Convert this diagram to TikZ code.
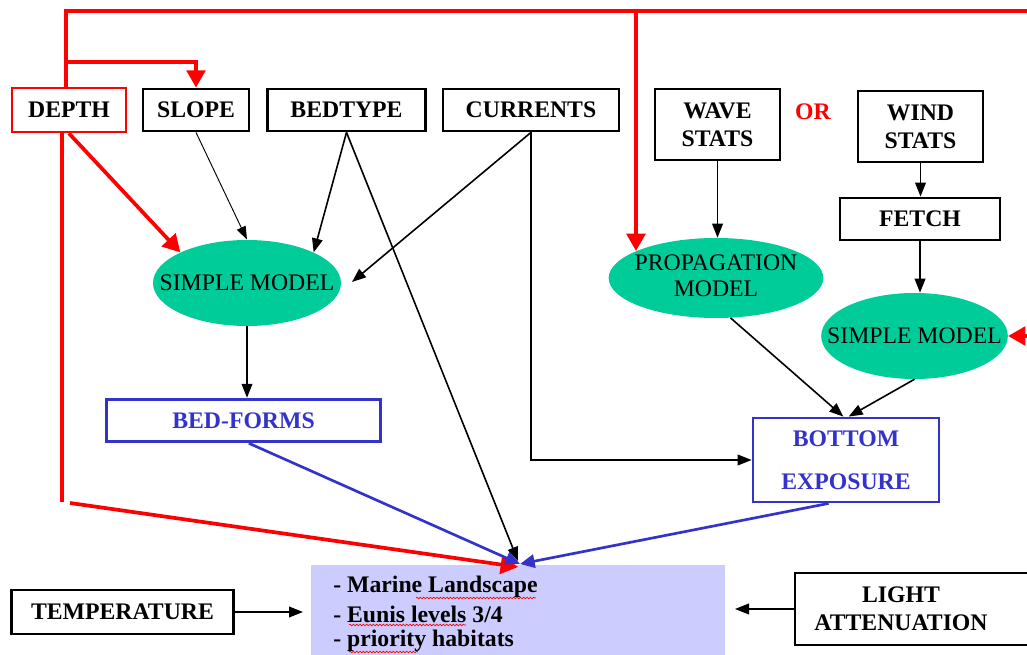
\documentclass[tikz,border=0pt]{standalone}
\usepackage{fontspec}
\setmainfont{Liberation Serif}
\usetikzlibrary{arrows.meta,shapes.geometric,decorations.pathmorphing}
\definecolor{myred}{RGB}{255,0,0}
\definecolor{myblue}{RGB}{51,51,204}
\definecolor{mygreen}{RGB}{0,204,153}
\definecolor{lav}{RGB}{204,204,255}
\begin{document}
\begin{tikzpicture}[x=0.75pt,y=-0.75pt,
  every node/.style={font=\fontsize{17.8pt}{21pt}\selectfont\bfseries},
  box/.style={draw=black,line width=2.1pt,inner sep=0pt,align=center,fill=white},
  ell/.style={ellipse,fill=mygreen,inner sep=0pt,font=\fontsize{17.8pt}{21pt}\selectfont\mdseries},
  blk/.style={draw=black,line width=1.2pt,-{Triangle[length=10.5pt,width=8pt]}},
  thinblk/.style={draw=black,line width=0.7pt,-{Triangle[length=10pt,width=7pt]}},
  redline/.style={draw=myred,line width=2.8pt},
  redarr/.style={draw=myred,line width=2.8pt,-{Triangle[length=13pt,width=14pt]}},
  bluarr/.style={draw=myblue,line width=2pt,-{Triangle[length=11pt,width=10pt]}},
  squig/.style={draw=myred,line width=0.5pt,decorate,decoration={snake,amplitude=0.6pt,segment length=2.5pt}}
]
\useasboundingbox (0,0) rectangle (1027,655);

% nodes
\node[box,draw=myred,minimum width=85.5pt,minimum height=33pt] (depth) at (69,110) {DEPTH};
\node[box,minimum width=79.5pt,minimum height=31.5pt] (slope) at (196,110) {SLOPE};
\node[box,minimum width=119pt,minimum height=31.5pt] (bedtype) at (346.5,110) {BEDTYPE};
\node[box,minimum width=132pt,minimum height=31.5pt] (currents) at (531,110) {CURRENTS};
\node[box,minimum width=93.75pt,minimum height=53.25pt] (wave) at (717.5,124.5) {WAVE\\STATS};
\node[text=myred] (or) at (813,112) {OR};
\node[box,minimum width=93.75pt,minimum height=53.25pt] (wind) at (920.5,126.5) {WIND\\STATS};
\node[box,minimum width=120pt,minimum height=31.5pt] (fetch) at (920,219) {FETCH};
\node[ell,minimum width=141pt,minimum height=64.5pt] (sm1) at (247,283) {\makebox[0pt]{SIMPLE MODEL}};
\node[ell,minimum width=161pt,minimum height=60pt] (prop) at (716,278) {\makebox[0pt]{\begin{tabular}{@{}c@{}}PROPAGATION\\[-1pt]MODEL\end{tabular}}};
\node[ell,minimum width=140pt,minimum height=64.5pt] (sm2) at (914.5,336) {\makebox[0pt]{SIMPLE MODEL}};
\node[box,draw=myblue,text=myblue,minimum width=206pt,minimum height=32pt] (bedforms) at (243.5,420.5) {BED-FORMS};
\node[box,draw=myblue,text=myblue,minimum width=139.5pt,minimum height=63pt,font=\fontsize{17.8pt}{32pt}\selectfont\bfseries] (bottom) at (846,460) {BOTTOM\\EXPOSURE};
\node[fill=lav,minimum width=310.5pt,minimum height=67.5pt,inner sep=0pt] (habitat) at (518,610) {};
\node[anchor=west,inner sep=0pt] (l1) at (333,587) {- Marine Landscape};
\node[anchor=west,inner sep=0pt] (l2) at (333,614) {- Eunis levels 3/4};
\node[anchor=west,inner sep=0pt] (l3) at (333,641) {- priority habitats};
\node[box,minimum width=166pt,minimum height=33pt] (temp) at (122.5,612) {TEMPERATURE};
\node[box,minimum width=180pt,minimum height=54pt] (light) at (915,609) {};
\node[align=center,inner sep=0pt] (lighttext) at (901,609) {LIGHT\\ATTENUATION};

% spell-check squiggles
\draw[squig] (416,598) -- (536,598);
\draw[squig] (349,625) -- (466,625);
\draw[squig] (349,652) -- (418,652);

% coordinates
\coordinate (rtop) at (66,11);
\coordinate (rend) at (1032,11);
\coordinate (rbr) at (66,62);
\coordinate (rprop) at (636,11);
\coordinate (propin) at (636,251);
\coordinate (rv1) at (62,133);
\coordinate (rv2) at (62,502);
\coordinate (rd) at (70,503);
\coordinate (redr) at (1032,336);
\coordinate (tgt) at (520,564);
\coordinate (tgtb) at (518,561);
\coordinate (tgtr) at (518,567);
\coordinate (curin) at (352,282);
\coordinate (tin) at (303,612);
\coordinate (lin) at (735,609);

% red connectors
\draw[redline] (depth.north -| rtop) -- (rtop) -- (rend);
\draw[redarr] (rbr) -| (slope.north);
\draw[redarr] (rprop) -- (propin);
\draw[redarr] (depth.south) -- (sm1.north west);
\draw[redline] (rv1) -- (rv2);
\draw[redarr] (rd) -- (tgtr);
\draw[redarr] (redr) -- (sm2.east);

% black connectors
\draw[thinblk] (slope.south) -- (sm1.north);
\draw[blk] (bedtype.south) -- (sm1.north east);
\draw[blk] (bedtype.south) -- (tgtb);
\draw[blk] (currents.south) -- (curin);
\draw[blk] (currents.south) |- (bottom.west);
\draw[blk] (sm1.south) -- (sm1.south |- bedforms.north);
\draw[blk] (wave.south) -- (wave.south |- prop.north);
\draw[blk] (wind.south) -- (wind.south |- fetch.north);
\draw[blk] (fetch.south) -- (fetch.south |- sm2.north);
\draw[blk] (prop.-70) -- ([xshift=-2pt]bottom.north);
\draw[blk] (sm2.south) -- ([xshift=2pt]bottom.north);
\draw[blk] (temp.east) -- (tin);
\draw[blk] (light.west) -- (lin);

% blue connectors
\draw[bluarr] ([xshift=4pt]bedforms.south) -- (tgt);
\draw[bluarr] ([xshift=-13pt]bottom.south) -- (tgt);
\end{tikzpicture}
\end{document}
